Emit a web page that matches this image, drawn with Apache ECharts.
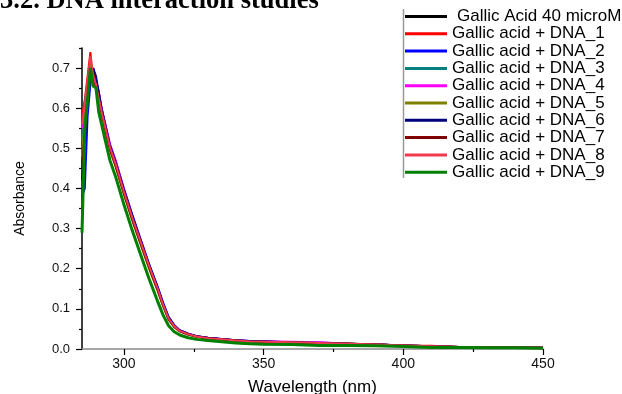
<!DOCTYPE html>
<html>
<head>
<meta charset="utf-8">
<script src="https://cdn.jsdelivr.net/npm/echarts@6/dist/echarts.min.js"></script>
<style>
html,body{margin:0;padding:0;background:#fff;}
#chart{width:622px;height:394px;}
</style>
</head>
<body>
<div id="chart"></div>
<script>
var wavelengths = [285,286,287,288,289,290,291,292,293,295,297,300,303,306,309,312,314,316,318,320,323,326,330,335,340,345,350,360,370,380,390,400,410,420,430,440,450];

var seriesNames = ['Gallic Acid 40 microM','Gallic acid + DNA_1','Gallic acid + DNA_2','Gallic acid + DNA_3','Gallic acid + DNA_4','Gallic acid + DNA_5','Gallic acid + DNA_6','Gallic acid + DNA_7','Gallic acid + DNA_8','Gallic acid + DNA_9'];

var gallic40 = [0.45,0.55,0.64,0.69,0.70,0.67,0.63, 0.595,0.565,0.505,0.465,0.395,0.33,0.27,0.21,0.155,0.113,0.078,0.058,0.046,0.038,0.032,0.028,0.025,0.022,0.02,0.019,0.017,0.015,0.014,0.012,0.009,0.007,0.005,0.004,0.004,0.003];
var dna1 = [0.58,0.62,0.68,0.74,0.67,0.65,0.62, 0.59,0.56,0.50,0.46,0.39,0.325,0.265,0.205,0.15,0.11,0.075,0.056,0.045,0.037,0.031,0.027,0.024,0.021,0.019,0.018,0.017,0.015,0.013,0.011,0.009,0.008,0.005,0.004,0.0035,0.003];
var dna2 = [0.38,0.40,0.58,0.66,0.70,0.67,0.64, 0.60,0.57,0.51,0.47,0.40,0.335,0.273,0.212,0.157,0.116,0.08,0.06,0.047,0.038,0.032,0.028,0.025,0.022,0.02,0.019,0.017,0.016,0.013,0.012,0.009,0.007,0.005,0.004,0.0035,0.003];
var dna3 = [0.52,0.62,0.65,0.70,0.68,0.66,0.625, 0.59,0.56,0.50,0.46,0.392,0.327,0.266,0.206,0.151,0.111,0.076,0.057,0.045,0.037,0.031,0.027,0.024,0.021,0.019,0.018,0.017,0.015,0.013,0.011,0.009,0.007,0.005,0.004,0.004,0.003];
var dna4 = [0.55,0.60,0.66,0.71,0.69,0.67,0.64, 0.60,0.57,0.51,0.47,0.398,0.33,0.27,0.208,0.152,0.112,0.076,0.057,0.046,0.038,0.032,0.028,0.024,0.022,0.02,0.019,0.018,0.017,0.013,0.011,0.009,0.007,0.005,0.004,0.0035,0.003];
var dna5 = [0.48,0.58,0.66,0.715,0.69,0.66,0.62, 0.585,0.555,0.495,0.455,0.385,0.32,0.26,0.2,0.146,0.107,0.073,0.055,0.044,0.036,0.03,0.026,0.023,0.021,0.019,0.018,0.016,0.015,0.013,0.011,0.009,0.007,0.005,0.004,0.0035,0.003];
var dna6 = [0.42,0.52,0.62,0.67,0.70,0.68,0.64, 0.60,0.568,0.507,0.466,0.397,0.332,0.271,0.21,0.155,0.114,0.078,0.058,0.046,0.038,0.032,0.028,0.025,0.022,0.02,0.019,0.017,0.015,0.013,0.011,0.009,0.007,0.005,0.004,0.0035,0.003];
var dna7 = [0.45,0.54,0.63,0.70,0.69,0.65,0.62, 0.588,0.557,0.497,0.457,0.387,0.322,0.262,0.203,0.148,0.108,0.074,0.055,0.044,0.036,0.031,0.027,0.024,0.021,0.019,0.018,0.016,0.014,0.013,0.011,0.009,0.007,0.005,0.004,0.0035,0.003];
var dna8 = [0.56,0.61,0.67,0.73,0.68,0.66,0.625, 0.592,0.562,0.502,0.462,0.392,0.327,0.267,0.207,0.152,0.111,0.076,0.057,0.045,0.037,0.031,0.027,0.024,0.021,0.019,0.018,0.017,0.015,0.013,0.011,0.009,0.007,0.005,0.004,0.0035,0.003];
var dna9 = [0.29,0.55,0.62,0.70,0.655,0.65,0.59, 0.56,0.53,0.47,0.43,0.36,0.295,0.235,0.175,0.12,0.085,0.058,0.043,0.035,0.028,0.024,0.021,0.018,0.015,0.013,0.012,0.011,0.009,0.009,0.008,0.006,0.004,0.004,0.003,0.003,0.002];

var xMajorTicks = [300,350,400,450];
var xMinorTicks = [325,375,425];
var yMajorTicks = [0,0.1,0.2,0.3,0.4,0.5,0.6,0.7];
var yMinorTicks = [0.05,0.15,0.25,0.35,0.45,0.55,0.65,0.75];

var allValues = [gallic40,dna1,dna2,dna3,dna4,dna5,dna6,dna7,dna8,dna9];
var colors = ['#000000','#ff0000','#0000ff','#008080','#ff00ff','#808000','#000080','#800000','#f03a50','#008000'];
var widths = [1.6,2,2,2,2,2,2,2,2,3];

var chart = echarts.init(document.getElementById('chart'), null, {renderer:'canvas'});

var series = allValues.map(function(vals, k){
  return {
    name: seriesNames[k],
    type: 'line',
    xAxisIndex: 0,
    yAxisIndex: 0,
    showSymbol: false,
    symbol: 'none',
    smooth: false,
    color: colors[k],
    lineStyle: {color: colors[k], width: widths[k]},
    data: wavelengths.map(function(w, i){ return [w, vals[i]]; })
  };
});

var font = '"Liberation Sans", Arial, sans-serif';

var legendData = seriesNames.map(function(n, k){
  var item = {name: n, itemStyle: {color: colors[k]}};
  if (k === 0) { item.textStyle = {padding: [0,0,0,5]}; }
  return item;
});

chart.setOption({
  animation: false,
  backgroundColor: '#ffffff',
  grid: {left: 82, right: 79, top: 48, bottom: 45, containLabel: false, outerBoundsMode: 'none'},
  graphic: [
    {type:'text', x: 0, y: 1, style: {text: '3.2. DNA interaction studies', font: 'bold 26.5px "Liberation Serif", "Times New Roman", serif', fill: '#000', verticalAlign: 'middle'}},
    {type:'line', shape: {x1: 403.5, y1: 9, x2: 403.5, y2: 178}, style: {stroke: '#999999', lineWidth: 1.5}}
  ],
  legend: {
    orient: 'vertical',
    left: 405,
    top: 8,
    padding: 0,
    itemWidth: 42,
    itemHeight: 3,
    itemGap: 0.3,
    icon: 'rect',
    selectedMode: false,
    textStyle: {fontFamily: font, fontSize: 17, color: '#000', lineHeight: 17},
    data: legendData
  },
  xAxis: [
    {
      type: 'value', min: 285, max: 450, position: 'bottom',
      name: 'Wavelength (nm)', nameLocation: 'middle', nameGap: 30,
      nameTextStyle: {fontFamily: font, fontSize: 17, color: '#000'},
      axisLine: {show: true, onZero: false, lineStyle: {color: '#8a8a8a', width: 1.5}},
      axisTick: {show: true, inside: false, length: 6, customValues: xMajorTicks, lineStyle: {color: '#000', width: 1.2}},
      axisLabel: {show: true, margin: 8, customValues: xMajorTicks, fontFamily: font, fontSize: 14, color: '#111'},
      splitLine: {show: false}
    },
    {
      type: 'value', min: 285, max: 450, position: 'bottom', gridIndex: 0,
      axisLine: {show: false, onZero: false},
      axisTick: {show: true, inside: false, length: 3, customValues: xMinorTicks, lineStyle: {color: '#000', width: 1.2}},
      axisLabel: {show: false},
      splitLine: {show: false}
    }
  ],
  yAxis: [
    {
      type: 'value', min: 0, max: 0.75, position: 'left',
      name: 'Absorbance', nameLocation: 'middle', nameGap: 55, nameRotate: 90,
      nameTextStyle: {fontFamily: font, fontSize: 14, color: '#000'},
      axisLine: {show: true, onZero: false, lineStyle: {color: '#000', width: 1.5}},
      axisTick: {show: true, inside: false, length: 6, customValues: yMajorTicks, lineStyle: {color: '#000', width: 1.2}},
      axisLabel: {show: true, margin: 12, customValues: yMajorTicks, fontFamily: font, fontSize: 13, color: '#111',
        formatter: function(v){ return v.toFixed(1); }},
      splitLine: {show: false}
    },
    {
      type: 'value', min: 0, max: 0.75, position: 'left', gridIndex: 0,
      axisLine: {show: false, onZero: false},
      axisTick: {show: true, inside: false, length: 3, customValues: yMinorTicks, lineStyle: {color: '#000', width: 1.2}},
      axisLabel: {show: false},
      splitLine: {show: false}
    }
  ],
  series: series
});
</script>
</body>
</html>
